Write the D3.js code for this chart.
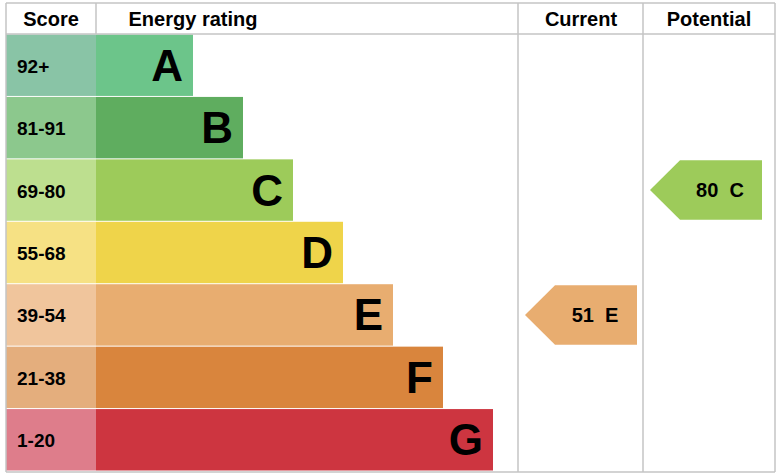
<!DOCTYPE html><html><head><meta charset="utf-8"><script src="https://cdn.jsdelivr.net/npm/d3@7"></script>
<style>body{margin:0;background:#fff}text{font-family:"Liberation Sans",Arial,sans-serif;font-weight:bold}</style></head><body><svg id="c" width="778" height="475"></svg>
<script>
const bands=["A","B","C","D","E","F","G"];
const scores=["92+","81-91","69-80","55-68","39-54","21-38","1-20"];
const barColors=["#6cc58a","#5fad5f","#9dcb5a","#efd44a","#e8ad70","#d9853d","#cd3540"];
const scoreColors=["#89c4a6","#8cc88d","#bddf8f","#f6e184","#f0c59c","#e4ae7d","#de7d8b"];
const current={value:51,band:"E"}, potential={value:80,band:"C"};
const svg=d3.select("#c");
const y=d3.scaleBand().domain(bands).range([34.5,471.5]);
const w=d3.scaleLinear().domain([0,6]).range([193,493]);
const g=svg.append("g");
bands.forEach((b,i)=>{
  g.append("rect").attr("x",6).attr("y",y(b)).attr("width",90).attr("height",y.bandwidth()-1).attr("fill",scoreColors[i]);
  g.append("rect").attr("x",96).attr("y",y(b)).attr("width",w(i)-96).attr("height",y.bandwidth()-1).attr("fill",barColors[i]);
  g.append("text").attr("x",17).attr("y",y(b)+y.bandwidth()/2+7).attr("font-size",19).text(scores[i]);
  g.append("text").attr("x",w(i)-10).attr("y",y(b)+y.bandwidth()/2+15).attr("text-anchor","end").attr("font-size",44).text(b);
});
const line=(x1,y1,x2,y2)=>svg.append("line").attr("x1",x1).attr("y1",y1).attr("x2",x2).attr("y2",y2).attr("stroke","#c4c4c4").attr("stroke-width",1.5);
line(6,3,775,3);line(6,34,775,34);line(6,3,6,472);line(775,3,775,472);line(6,472,775,472);
line(96,3,96,34);line(518,3,518,472);line(643,3,643,472);
[["Score",51],["Energy rating",193],["Current",581],["Potential",709]].forEach(([t,x])=>svg.append("text").attr("x",x).attr("y",26).attr("text-anchor","middle").attr("font-size",20).text(t));
function arrow(d,x0){
  const i=bands.indexOf(d.band),t=y(d.band)+1,h=y.bandwidth()-3,x1=x0+112;
  svg.append("path").attr("d",`M${x0},${t+h/2}L${x0+30},${t}L${x1},${t}L${x1},${t+h}L${x0+30},${t+h}Z`).attr("fill",barColors[i]);
  svg.append("text").attr("x",x0+70).attr("y",t+h/2+7).attr("text-anchor","middle").attr("font-size",20).text(d.value+"\u00a0 "+d.band);
}
arrow(current,525);arrow(potential,650);
</script></body></html>
